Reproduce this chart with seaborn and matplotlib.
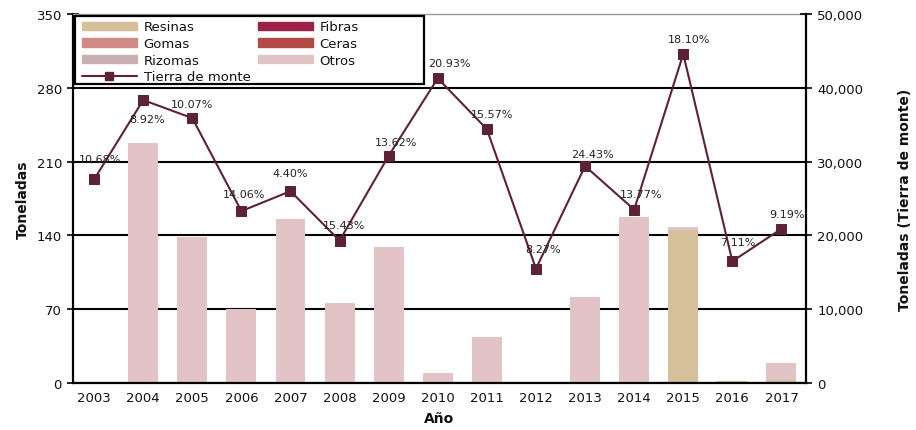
import numpy as np
import pandas as pd
import seaborn as sns
import matplotlib.pyplot as plt
from matplotlib.patches import Patch, Rectangle
from matplotlib.lines import Line2D

years = [str(y) for y in range(2003, 2018)]

# toneladas por grupo (eje izquierdo)
resinas = [0, 0, 0, 0, 0, 0, 0, 0, 0, 0, 0, 0, 145.5, 2.2, 2.5]
fibras = [0] * 15
gomas = [0] * 15
ceras = [0] * 15
rizomas = [0] * 15
otros = [0, 227.4, 138.5, 70.2, 155.3, 76.0, 129.0, 9.5, 43.6, 0, 81.3, 157.2, 2.2, 0, 16.8]

# tierra de monte (eje derecho) y etiquetas
tierra = [27600, 38350, 35900, 23300, 26000, 19300, 30800, 41300, 34400,
          15500, 29400, 23500, 44600, 16500, 20900]
pct_labels = ["10.68%", "8.92%", "10.07%", "14.06%", "4.40%", "15.43%", "13.62%",
              "20.93%", "15.57%", "8.27%", "24.43%", "13.77%", "18.10%", "7.11%", "9.19%"]

colors = {"Resinas": "#D5C09B", "Fibras": "#9C2247", "Gomas": "#D28A86",
          "Ceras": "#B24A46", "Rizomas": "#C9AFB4", "Otros": "#E3C4C6"}
line_color = "#5B2333"

sns.set_style("white")
plt.rcParams['font.family'] = ['DejaVu Sans']
plt.rcParams['text.color'] = '#111111'
plt.rcParams['axes.labelcolor'] = '#111111'
plt.rcParams['xtick.color'] = '#111111'
plt.rcParams['ytick.color'] = '#111111'

fig = plt.figure(figsize=(9.16, 4.31), dpi=100)
ax = fig.add_axes([0.0797, 0.109, 0.8002, 0.856])

# stacked bars: draw cumulative totals from top to bottom
groups = [("Resinas", resinas), ("Fibras", fibras), ("Gomas", gomas),
          ("Ceras", ceras), ("Rizomas", rizomas), ("Otros", otros)]
cum = np.zeros(len(years))
cums = []
for name, vals in groups:
    cum = cum + np.array(vals, dtype=float)
    cums.append((name, cum.copy()))
for name, c in reversed(cums):
    sns.barplot(x=years, y=c, color=colors[name], width=0.61, ax=ax,
                saturation=1, zorder=2, linewidth=0)

ax.set_ylim(0, 350)
ax.set_yticks(np.arange(0, 351, 70))
ax.set_xlim(-0.43, 14.49)
ax.yaxis.grid(True, color="black", lw=1.5, zorder=0)
ax.get_ygridlines()[-1].set_visible(False)
ax.set_axisbelow(True)

ax.set_xticks(np.arange(len(years)) + 0.5, minor=False)
ax.set_xticklabels([])
ax.set_xticks(np.arange(len(years)), minor=True)
ax.set_xticklabels(years, minor=True, fontsize=9.5)
ax.tick_params(axis="x", which="major", direction="out", length=4, width=1.2, color="black")
ax.tick_params(axis="x", which="minor", length=0, pad=6)
ax.tick_params(axis="y", direction="inout", length=8, width=1.2, color="black",
               labelsize=9.5, pad=4)

ax.set_xlabel("Año", fontsize=10, fontweight="bold", labelpad=5)
ax.set_ylabel("Toneladas", fontsize=10, fontweight="bold", labelpad=5)

for s in ["left", "bottom"]:
    ax.spines[s].set_color("black")
    ax.spines[s].set_linewidth(1.6)
ax.spines["top"].set_color("#999999")
ax.spines["top"].set_linewidth(1.0)
ax.spines["right"].set_visible(False)

ax2 = ax.twinx()
xpos = np.arange(len(years))
sns.lineplot(x=xpos, y=tierra, ax=ax2, color=line_color, lw=1.5, marker="s",
             markersize=6.5, markeredgecolor=line_color, zorder=5)
ax2.set_ylim(0, 50000)
ax2.set_yticks(np.arange(0, 50001, 10000))
ax2.set_yticklabels([f"{v:,}" for v in range(0, 50001, 10000)])
ax2.tick_params(axis="y", direction="inout", length=8, width=1.2, color="black",
                labelsize=9.5, pad=4)
ax2.set_ylabel("Toneladas (Tierra de monte)", fontsize=10, fontweight="bold",
               labelpad=25)
ax2.spines["right"].set_color("black")
ax2.spines["right"].set_linewidth(1.6)
for s in ["left", "top", "bottom"]:
    ax2.spines[s].set_visible(False)

# percentage labels
offsets = [(4, 15), (3, -14), (0, 10), (2, 12), (0, 13), (3, 11), (5, 10),
           (8, 11), (4, 11), (5, 14), (5, 9), (5, 11), (4, 11), (4, 14), (4, 11)]
for i, (val, lab) in enumerate(zip(tierra, pct_labels)):
    ax2.annotate(lab, (i, val), xytext=offsets[i], textcoords="offset points",
                 ha="center", va="center", fontsize=8, color="#222222", zorder=6)

handles = [Patch(color=colors["Resinas"], label="Resinas"),
           Patch(color=colors["Gomas"], label="Gomas"),
           Patch(color=colors["Rizomas"], label="Rizomas"),
           Line2D([0], [0], color=line_color, lw=1.5, marker="s", markersize=6,
                  label="Tierra de monte"),
           Patch(color=colors["Fibras"], label="Fibras"),
           Patch(color=colors["Ceras"], label="Ceras"),
           Patch(color=colors["Otros"], label="Otros")]
leg = ax2.legend(handles=handles, ncol=2, loc="upper left",
                 bbox_to_anchor=(0.008, 0.99), borderaxespad=0, fontsize=9.5,
                 frameon=False, handlelength=4.2, handleheight=0.6,
                 labelspacing=0.28, columnspacing=0.55, borderpad=0.2,
                 handletextpad=0.5)
leg.set_zorder(10)
# legend frame, wider than the entries as in the original
frame = Rectangle((0.003, 0.81), 0.476, 0.185, transform=ax2.transAxes,
                  facecolor="white", edgecolor="black", lw=1.6, zorder=9)
ax2.add_patch(frame)

fig.savefig("out.png", dpi=100)
